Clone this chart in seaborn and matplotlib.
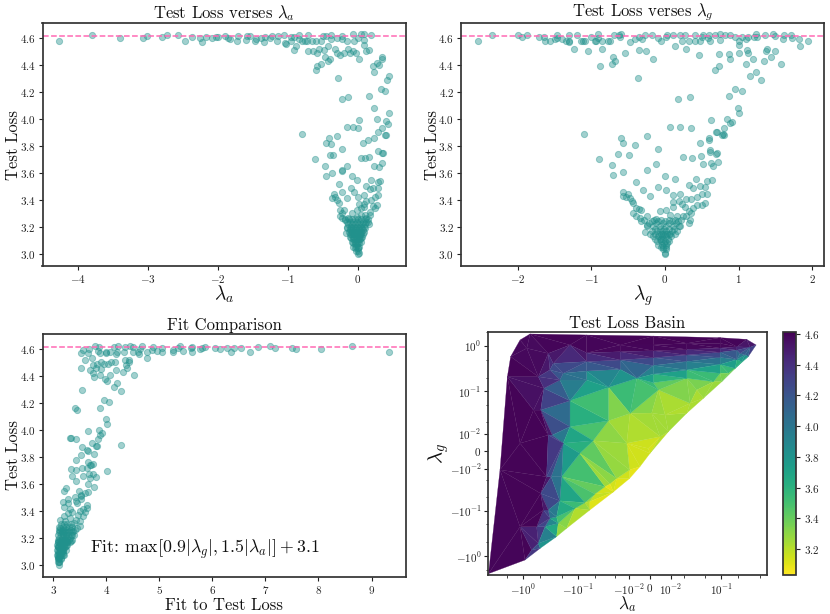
import numpy as np
import matplotlib
matplotlib.use("Agg")
import matplotlib.pyplot as plt
import matplotlib.tri as mtri
from matplotlib.path import Path
import seaborn as sns

# Top left panel: lambda_a against test loss
a_vals = [
    -4.27, -3.79, -3.39, -3.07, -3.01, -2.79, -2.73, -2.56, -2.46, -2.36, -2.25, -2.23, -2.17, -2.08, -2.02, -2.0,
    -1.89, -1.85, -1.82, -1.72, -1.71, -1.60, -1.58, -1.54, -1.47, -1.46, -1.38, -1.34, -1.33, -1.25, -1.23, -1.16,
    -1.14, -1.06, -1.04, -1.02, -0.96, -0.95, -0.91, -0.91, -0.89, -0.84, -0.84, -0.80, -0.76, -0.71, -0.72, -0.66,
    -0.60, -0.52, -0.50, -0.45, -0.42, -0.38, -0.38, -0.30, -0.22, -0.22, -0.15, -0.07, -0.06, 0.0, 0.04, 0.09,
    0.09, 0.09, 0.11, 0.16, 0.19,
    -0.71, -0.64, -0.58, -0.56, -0.49, -0.47, -0.40, -0.43, -0.53, -0.59, -0.60, -0.33, -0.30, -0.25, -0.20, -0.14,
    -0.11, -0.07, -0.03, 0.01,
    0.21, 0.23, 0.27, 0.30, 0.34, 0.35, 0.44, 0.41, 0.33, 0.39, 0.16, -0.29, -0.22, -0.14, 0.23, 0.44,
    0.27, 0.02, 0.40, 0.43, 0.34, 0.28, -0.15, -0.07, 0.0, 0.38, 0.40, -0.80, -0.30, -0.41, 0.23, 0.14,
    0.07, -0.45, -0.38, -0.22, 0.28, 0.34, 0.36, -0.40, -0.35, 0.04, 0.10, 0.16, -0.61, -0.47, -0.22, -0.157,
    0.23, 0.30, 0.35,
    -0.46, -0.37, -0.22, -0.09, -0.02, 0.18, 0.12, 0.29, 0.32, -0.27, -0.105, -0.05, -0.22, 0.17, 0.22, 0.28,
    -0.34, -0.33, -0.37, -0.30, -0.27, -0.16, 0.0, 0.08, 0.29, 0.24, 0.18, 0.12, 0.02, 0.08, 0.09, 0.22,
    0.27, 0.24, -0.25, -0.20, -0.22, -0.09, -0.02, 0.04, 0.17, 0.17, -0.26, -0.23, -0.186, 0.15, 0.16, 0.12,
    -0.14, -0.01, 0.05, 0.10, -0.17,
    -0.16, -0.114, -0.067, -0.02, 0.03, 0.076, 0.114,
    -0.15, -0.105, -0.057, -0.01, 0.04, 0.086,
    -0.133, -0.09, -0.043, 0.005, 0.05, 0.09,
    -0.114, -0.067, -0.03, 0.02, 0.06,
    -0.086, -0.043, -0.005, 0.04,
    -0.067, -0.03, 0.01,
    -0.03, 0.0, -0.005,
    -0.14, -0.09, -0.04, 0.01, 0.06, 0.10,
    -0.12, -0.08, -0.03, 0.02, 0.07,
    -0.10, -0.05, -0.01, 0.03, 0.05,
    -0.07, -0.02, 0.01, 0.03,
    -0.04, -0.01, 0.0, 0.01,
    -0.19, -0.13, -0.08, -0.04, 0.0, 0.05, 0.10, 0.14,
    -0.15, -0.11, -0.07, -0.03, 0.02, 0.06, 0.10,
    -0.12, -0.07, -0.02, 0.03, 0.07,
    -0.10, -0.05, 0.0, 0.04,
    -0.07, -0.03, 0.02,
    -0.04, 0.0,
]
a_loss = [
    4.58, 4.62, 4.60, 4.60, 4.615, 4.61, 4.62, 4.62, 4.58, 4.61, 4.60, 4.57, 4.61, 4.60, 4.605, 4.61,
    4.615, 4.60, 4.595, 4.575, 4.615, 4.585, 4.615, 4.615, 4.58, 4.595, 4.60, 4.57, 4.61, 4.60, 4.615, 4.575,
    4.615, 4.62, 4.565, 4.555, 4.61, 4.575, 4.61, 4.51, 4.54, 4.62, 4.59, 4.575, 4.575, 4.62, 4.58, 4.575,
    4.575, 4.575, 4.615, 4.615, 4.54, 4.59, 4.62, 4.60, 4.615, 4.59, 4.575, 4.63, 4.575, 4.60, 4.625, 4.625,
    4.585, 4.545, 4.50, 4.51, 4.62,
    4.50, 4.50, 4.49, 4.52, 4.51, 4.46, 4.445, 4.43, 4.41, 4.39, 4.365, 4.52, 4.49, 4.47, 4.49, 4.52,
    4.49, 4.50, 4.49, 4.44,
    4.395, 4.35, 4.415, 4.40, 4.445, 4.46, 4.32, 4.285, 4.22, 4.205, 4.17, 4.30, 4.15, 4.16, 4.08, 4.045,
    4.0, 3.995, 3.985, 3.965, 3.935, 3.90, 3.94, 3.94, 3.93, 3.88, 3.88, 3.89, 3.875, 3.86, 3.855, 3.845,
    3.82, 3.82, 3.815, 3.78, 3.765, 3.745, 3.75, 3.735, 3.73, 3.71, 3.71, 3.715, 3.70, 3.65, 3.62, 3.65,
    3.65, 3.645, 3.67,
    3.58, 3.60, 3.617, 3.573, 3.548, 3.548, 3.50, 3.53, 3.54, 3.518, 3.486, 3.46, 3.46, 3.479, 3.486, 3.49,
    3.444, 3.424, 3.412, 3.40, 3.375, 3.412, 3.424, 3.437, 3.437, 3.424, 3.40, 3.39, 3.367, 3.367, 3.35, 3.358,
    3.363, 3.338, 3.326, 3.326, 3.30, 3.30, 3.326, 3.338, 3.313, 3.289, 3.284, 3.264, 3.25, 3.239, 3.22, 3.264,
    3.269, 3.276, 3.289, 3.289, 3.153,
    3.239, 3.239, 3.239, 3.239, 3.239, 3.239, 3.239,
    3.202, 3.202, 3.202, 3.202, 3.202, 3.202,
    3.165, 3.165, 3.165, 3.165, 3.165, 3.165,
    3.128, 3.128, 3.128, 3.128, 3.128,
    3.091, 3.091, 3.091, 3.091,
    3.054, 3.054, 3.054,
    3.022, 3.022, 2.997,
    3.22, 3.22, 3.22, 3.22, 3.22, 3.22,
    3.18, 3.18, 3.18, 3.18, 3.18,
    3.145, 3.145, 3.145, 3.145, 3.145,
    3.11, 3.11, 3.11, 3.11,
    3.07, 3.07, 3.04, 3.01,
    3.26, 3.26, 3.26, 3.26, 3.26, 3.26, 3.26, 3.26,
    3.19, 3.19, 3.19, 3.19, 3.19, 3.19, 3.19,
    3.15, 3.15, 3.15, 3.15, 3.15,
    3.12, 3.12, 3.12, 3.12,
    3.08, 3.08, 3.08,
    3.04, 3.04,
]

# Top right panel: lambda_g against test loss
g_vals = [
    -2.54, -2.35, -1.99, -1.94, -1.88, -1.71, -1.64, -1.63, -1.56, -1.49, -1.46, -1.46, -1.40, -1.35, -1.31, -1.30,
    -1.30, -1.2, -1.14, -1.11, -1.08, -1.0, -0.95, -0.93, -0.905, -0.905, -0.85, -0.78, -0.74, -0.69, -0.62, -0.61,
    -0.6, -0.475, -0.41, -0.35, -0.31, -0.27, -0.18, -0.10, -0.06, 0.01, 0.03, 0.11, 0.20, 0.27, 0.23, 0.33,
    0.41, 0.41, 0.48, 0.51, 0.50, 0.60, 0.58, 0.61, 0.68, 0.75, 0.75, 0.81, 0.88, 0.95, 1.0, 1.04,
    1.10, 1.13, 1.21, 1.24, 1.25, 1.36, 1.47, 1.49, 1.60, 1.61, 1.71, 1.72, 1.82, 1.94, 1.83,
    -1.235, -1.04, -0.85, -0.88, -0.70, -0.68, -0.72, -0.54, -0.35, -0.26, -0.16, -0.37, 0.13, 0.29, 0.46, 0.73,
    0.87, 0.88, 0.68, 0.73, 1.0, 1.01, 1.12, 1.13, 1.2, 1.10, 1.15, 1.235, 1.30, 1.34, 1.37, 1.38,
    1.44, 1.49, 1.575,
    0.95, 1.05, 0.87, 0.18, 0.34, 0.99, 1.0, 0.62, 0.84, 0.91, 0.88, 0.07, 0.21, 0.35, 0.80, 0.71,
    0.80, 0.78, -1.10, -0.60, -0.57, -0.41, -0.25, -0.09, 0.48, 0.60, 0.60, 0.61,
    0.70, 0.79, 0.61, 0.71, 0.70, -0.64, -0.49, -0.89, -0.72, -0.71, -0.575, -0.127, -0.25, 0.25, 0.37, 0.49,
    0.51, 0.63, 0.65, 0.72, 0.0, 0.13, -0.40, 0.42, 0.32, 0.38, 0.475, 0.55, 0.575, 0.64, -0.095, 0.01,
    -0.30, -0.575, -0.50, -0.575, -0.53, -0.475, -0.45, -0.44, -0.2, 0.11, 0.21, 0.50, 0.57, 0.29, 0.35, 0.43,
    0.43, 0.50, 0.54, 0.11, 0.19, 0.23, 0.27, 0.11, 0.375, 0.02, -0.07, -0.40, -0.35, -0.32, -0.43, -0.39,
    -0.34, -0.32, -0.25, -0.12, 0.32, 0.36, 0.29, 0.25, 0.34, 0.32, 0.20, 0.16, 0.07, -0.27, -0.25, -0.18,
    -0.09, 0.0, 0.09, 0.18,
    -0.25, -0.16, -0.07, 0.02, 0.11, 0.19,
    -0.18, -0.11, -0.045, 0.02, 0.09, 0.16,
    -0.16, -0.10, -0.045, 0.014, 0.077,
    -0.11, -0.06, 0.0, 0.06,
    -0.10, -0.045, 0.014,
    -0.03, 0.014, 0.0, -0.005,
    -0.14, -0.07, -0.01, 0.05, 0.12,
    -0.08, -0.02, 0.03, 0.07,
    -0.05, -0.01, 0.03,
    -0.22, -0.12, -0.03, 0.06, 0.15,
    -0.2, -0.13, -0.06, 0.0, 0.06, 0.13,
    -0.14, -0.07, -0.02, 0.04,
    -0.06, -0.02, 0.02,
    -0.28, -0.15, -0.05, 0.05, 0.13, 0.22,
]
g_loss = [
    4.58, 4.62, 4.62, 4.605, 4.62, 4.61, 4.61, 4.58, 4.58, 4.59, 4.62, 4.60, 4.59, 4.575, 4.57, 4.58,
    4.62, 4.62, 4.58, 4.58, 4.58, 4.61, 4.58, 4.58, 4.625, 4.60, 4.575, 4.58, 4.58, 4.62, 4.62, 4.605,
    4.625, 4.57, 4.595, 4.61, 4.595, 4.62, 4.62, 4.60, 4.58, 4.605, 4.62, 4.62, 4.62, 4.62, 4.575, 4.575,
    4.62, 4.575, 4.575, 4.62, 4.61, 4.62, 4.60, 4.575, 4.62, 4.63, 4.585, 4.62, 4.62, 4.61, 4.58, 4.61,
    4.595, 4.61, 4.61, 4.625, 4.61, 4.62, 4.625, 4.615, 4.595, 4.62, 4.62, 4.60, 4.59, 4.58, 4.54,
    4.515, 4.505, 4.52, 4.39, 4.46, 4.425, 4.41, 4.49, 4.51, 4.50, 4.44, 4.30, 4.54, 4.52, 4.47, 4.48,
    4.48, 4.44, 4.365, 4.395, 4.545, 4.49, 4.51, 4.49, 4.445, 4.405, 4.32, 4.35, 4.285, 4.43, 4.50, 4.52,
    4.46, 4.50, 4.41,
    4.22, 4.21, 4.17, 4.15, 4.16, 4.08, 4.045, 3.99, 4.0, 3.98, 3.97, 3.94, 3.94, 3.93, 3.93, 3.90,
    3.88, 3.88, 3.885, 3.855, 3.82, 3.81, 3.875, 3.775, 3.82, 3.855, 3.84, 3.755,
    3.90, 3.885, 3.77, 3.75, 3.74, 3.74, 3.734, 3.704, 3.66, 3.586, 3.608, 3.662, 3.623, 3.717, 3.71, 3.724,
    3.662, 3.672, 3.652, 3.68, 3.578, 3.556, 3.529, 3.556, 3.51, 3.487, 3.504, 3.497, 3.539, 3.549, 3.497, 3.47,
    3.472, 3.457, 3.445, 3.425, 3.418, 3.413, 3.395, 3.38, 3.425, 3.433, 3.447, 3.44, 3.447, 3.403, 3.41, 3.42,
    3.363, 3.361, 3.378, 3.383, 3.388, 3.371, 3.346, 3.346, 3.339, 3.326, 3.314, 3.341, 3.331, 3.326, 3.299, 3.277,
    3.265, 3.247, 3.277, 3.26, 3.314, 3.302, 3.277, 3.282, 3.252, 3.228, 3.203, 3.282, 3.289, 3.161, 3.215, 3.24,
    3.24, 3.24, 3.24, 3.24,
    3.203, 3.203, 3.203, 3.203, 3.203, 3.203,
    3.166, 3.166, 3.166, 3.166, 3.166, 3.166,
    3.129, 3.129, 3.129, 3.129, 3.129,
    3.092, 3.092, 3.092, 3.092,
    3.067, 3.067, 3.067,
    3.035, 3.035, 3.005, 3.0,
    3.185, 3.185, 3.185, 3.185, 3.185,
    3.145, 3.145, 3.145, 3.145,
    3.11, 3.08, 3.08,
    3.225, 3.225, 3.225, 3.225, 3.225,
    3.15, 3.15, 3.15, 3.15, 3.15, 3.15,
    3.11, 3.11, 3.11, 3.11,
    3.05, 3.05, 3.05,
    3.25, 3.25, 3.25, 3.25, 3.25, 3.25,
]

# Bottom left panel: fit value against test loss
fit_vals = [
    9.33, 8.63, 8.05, 7.58, 7.5, 7.19, 7.09, 6.86, 6.71, 6.55, 6.40, 6.36, 6.27, 6.14, 6.05, 5.87,
    5.77, 5.81, 5.62, 5.59, 5.62, 5.45, 5.39, 5.35, 5.26, 5.25, 5.06, 5.06, 4.95, 4.89, 4.86, 4.76,
    4.76, 4.67, 4.64, 4.60, 4.62, 4.51, 4.51, 4.45, 4.35, 4.33, 4.23, 4.21, 4.14, 4.19, 4.07, 3.99,
    4.0, 3.88, 3.85, 3.79, 3.86, 3.74, 3.66, 3.68, 3.57, 3.53, 3.60, 3.52,
    3.75, 3.82, 3.91, 3.96, 4.04, 4.10, 4.16, 4.18, 4.35, 4.43, 4.38, 4.32, 4.40, 4.52, 4.43, 3.69,
    3.75, 3.77, 3.81, 3.88, 3.91, 3.97, 4.01, 4.08, 4.21, 4.14, 4.27, 3.54,
    3.96, 4.05, 3.89, 3.41, 3.45, 4.0, 4.01, 3.66, 3.86, 3.92, 3.89, 3.31, 3.33, 3.43, 3.84, 3.74,
    3.80, 3.83, 4.28, 3.55, 3.64, 3.66, 3.53, 3.77, 3.44, 3.65, 3.69, 3.75, 3.72, 3.33, 3.44, 3.55,
    3.64, 4.01, 3.35, 3.57, 3.68, 3.75, 3.69, 3.81, 3.44, 3.65, 3.77, 3.24, 3.21, 3.48, 3.66, 3.60,
    3.52, 3.53, 3.28, 3.41, 3.19, 3.28, 3.44, 3.53, 3.45, 3.20, 3.31, 3.63, 3.64, 3.57, 3.50, 3.60,
    3.28, 3.36, 3.47, 3.57, 3.20, 3.13, 3.22, 3.31, 3.43, 3.50, 3.39, 3.13, 3.50, 3.45,
    3.11, 3.19, 3.25, 3.33, 3.41,
    3.10, 3.18, 3.25, 3.33, 3.39,
    3.09, 3.16, 3.23, 3.30, 3.36,
    3.08, 3.145, 3.21, 3.27,
    3.08, 3.14, 3.19, 3.24,
    3.08, 3.125, 3.19,
    3.09, 3.145, 3.11,
    3.12, 3.17, 3.22, 3.28, 3.35,
    3.10, 3.15, 3.20, 3.26,
    3.09, 3.13, 3.18,
    3.10, 3.12, 3.11,
    3.12, 3.18, 3.24, 3.30, 3.36,
    3.12, 3.17, 3.22, 3.27, 3.32,
    3.10, 3.13, 3.18, 3.22, 3.26, 3.31,
    3.09, 3.12, 3.16, 3.20, 3.23,
    3.09, 3.12, 3.15, 3.18,
    3.09, 3.12, 3.15,
    3.10, 3.12,
    3.14, 3.20, 3.26, 3.33,
    3.13, 3.17, 3.21, 3.29, 3.37,
    3.14, 3.20, 3.28, 3.36,
    3.12, 3.19, 3.25, 3.33,
    3.10, 3.15, 3.19, 3.25,
    3.10, 3.14, 3.17,
    3.10, 3.14, 3.20,
]
fit_loss = [
    4.58, 4.62, 4.60, 4.60, 4.61, 4.61, 4.62, 4.615, 4.58, 4.61, 4.605, 4.575, 4.61, 4.60, 4.61, 4.615,
    4.60, 4.61, 4.615, 4.61, 4.575, 4.585, 4.62, 4.61, 4.58, 4.595, 4.61, 4.575, 4.585, 4.615, 4.595, 4.53,
    4.58, 4.62, 4.60, 4.58, 4.56, 4.615, 4.58, 4.62, 4.615, 4.575, 4.62, 4.58, 4.615, 4.56, 4.58, 4.57,
    4.575, 4.57, 4.585, 4.62, 4.615, 4.535, 4.57, 4.60, 4.59, 4.57, 4.515, 4.46,
    4.48, 4.49, 4.505, 4.485, 4.485, 4.50, 4.505, 4.44, 4.515, 4.505, 4.48, 4.425, 4.46, 4.405, 4.515, 4.44,
    4.42, 4.39, 4.455, 4.41, 4.45, 4.38, 4.365, 4.405, 4.35, 4.32, 4.285, 4.295,
    4.22, 4.205, 4.165, 4.16, 4.145, 4.08, 4.045, 3.99, 4.0, 3.98, 3.965, 3.94, 3.94, 3.93, 3.935, 3.90,
    3.88, 3.88, 3.89, 3.875, 3.85, 3.84, 3.815, 3.82, 3.78, 3.765, 3.74, 3.745, 3.74, 3.71, 3.705, 3.715,
    3.72, 3.695, 3.655, 3.655, 3.67, 3.67, 3.64, 3.65, 3.62, 3.60, 3.58, 3.57, 3.545, 3.55, 3.54, 3.53,
    3.52, 3.51, 3.49, 3.505, 3.465, 3.46, 3.475, 3.49, 3.46, 3.425, 3.415, 3.445, 3.42, 3.415, 3.40, 3.395,
    3.385, 3.395, 3.37, 3.36, 3.365, 3.33, 3.325, 3.35, 3.33, 3.325, 3.31, 3.27, 3.29, 3.27,
    3.26, 3.26, 3.26, 3.26, 3.26,
    3.224, 3.224, 3.224, 3.224, 3.224,
    3.187, 3.187, 3.187, 3.187, 3.187,
    3.15, 3.15, 3.15, 3.15,
    3.113, 3.113, 3.113, 3.113,
    3.076, 3.076, 3.076,
    3.04, 3.04, 3.0,
    3.24, 3.24, 3.24, 3.24, 3.24,
    3.17, 3.17, 3.17, 3.17,
    3.13, 3.10, 3.10,
    3.06, 3.02, 3.05,
    3.28, 3.28, 3.28, 3.28, 3.28,
    3.20, 3.20, 3.20, 3.20, 3.20,
    3.17, 3.17, 3.17, 3.17, 3.17, 3.17,
    3.13, 3.13, 3.13, 3.13, 3.13,
    3.09, 3.09, 3.09, 3.09,
    3.05, 3.05, 3.05,
    3.02, 3.02,
    3.30, 3.30, 3.30, 3.30,
    3.25, 3.25, 3.25, 3.25, 3.25,
    3.22, 3.22, 3.22, 3.22,
    3.18, 3.18, 3.18, 3.18,
    3.14, 3.14, 3.14, 3.14,
    3.10, 3.10, 3.10,
    3.07, 3.07, 3.07,
]

# Bottom right panel: basin vertices, the outline comes first and in order
outline_count = 26
basin_a = [
    -4.27, -2.64, -1.94, -1.69, -1.14, -0.75, -0.07, 0.0015, 0.095, 0.29, 0.43, 0.31, 0.179, 0.102, 0.047, 0.0226,
    0.0086, 0.0001, -0.0042, -0.0095, -0.0218, -0.061, -0.162, -0.247, -0.49, -0.93,
    -1.14, -1.14, -0.65, -0.86, -0.53, -0.48, -0.48, -0.57, -0.70, -0.35, -0.376, -0.43,
    -0.141, -0.0158, 0.0015, 0.0226, 0.095,
    -0.35, -0.07, -0.0158, 0.0015, 0.0226, 0.095, 0.192,
    -0.284, -0.07, -0.0158, 0.0015, 0.0226, 0.095, 0.192,
    -0.187, -0.07, -0.0158, 0.0015, 0.0226, 0.095, 0.219,
    -0.07, -0.0057, 0.0015, 0.0226, 0.095, 0.192,
    -0.0273, 0.0015, 0.0226, 0.095, 0.235,
    0.0037, 0.0352, 0.072, 0.135, 0.333, 0.27,
    -0.327, -0.42, -0.215, -0.141, -0.296, -0.31, -0.35, -0.187, -0.2, -0.215, -0.093, -0.053, -0.141,
    -0.0273, -0.0092, 0.0008, 0.0069, 0.0262, 0.0045, -0.0006, -0.0112, -0.0095, -0.0187, -0.0317, -0.0253,
    -0.061, -0.049, -0.075, -0.114, -0.23, -0.247, -0.327, -0.40, -0.53,
]
basin_g = [
    -2.4, -0.011, 0.21, 0.58, 1.34, 1.81, 1.72, 1.63, 1.50, 1.38, 1.04, 0.58, 0.32, 0.164, 0.071, 0.033,
    0.0113, -0.0012, -0.0087, -0.0187, -0.0385, -0.0973, -0.245, -0.372, -0.67, -1.21,
    0.004, -0.226, 0.0386, 0.88, 0.21, 0.0386, -0.0417, -0.226, -0.73, 0.0089, -0.0169, -0.0973,
    1.04, 1.04, 1.04, 1.13, 1.13,
    0.68, 0.70, 0.74, 0.78, 0.83, 0.89, 0.95,
    0.41, 0.45, 0.488, 0.55, 0.63, 0.72, 0.80,
    0.25, 0.28, 0.305, 0.37, 0.45, 0.555, 0.68,
    0.178, 0.194, 0.24, 0.296, 0.39, 0.50,
    0.123, 0.156, 0.194, 0.25, 0.45,
    0.108, 0.108, 0.164, 0.25, 0.93, 0.63,
    0.296, 0.117, 0.178, 0.0625, 0.0089, -0.0169, -0.0973, 0.004, -0.0169, -0.061, -0.0012, 0.0054, 0.0155,
    0.0218, 0.0325, 0.033, 0.030, 0.0547, 0.0079, 0.0013, 0.004, -0.011, -0.0187, -0.0293, -0.0255,
    -0.0636, -0.043, -0.067, -0.0897, -0.19, -0.137, -0.148, -0.226, -0.523,
]
basin_loss = [
    4.58, 4.6, 4.6, 4.6, 4.6, 4.6, 4.6, 4.6, 4.6, 4.6, 4.55, 4.0, 3.5, 3.3, 3.2, 3.3,
    3.3, 3.15, 3.08, 3.03, 3.05, 3.08, 3.15, 3.3, 3.9, 4.6,
    4.6, 4.6, 4.6, 4.55, 4.6, 4.6, 4.6, 4.6, 4.6, 4.6, 4.6, 4.6,
    4.6, 4.6, 4.6, 4.6, 4.6,
    4.58, 4.58, 4.58, 4.58, 4.58, 4.58, 4.58,
    4.35, 4.35, 4.35, 4.35, 4.35, 4.35, 4.35,
    4.1, 4.1, 4.1, 4.1, 4.1, 4.1, 4.1,
    3.85, 3.85, 3.85, 3.85, 3.85, 3.85,
    3.45, 3.45, 3.45, 3.45, 3.45,
    3.35, 3.3, 3.3, 3.3, 4.4, 4.0,
    4.35, 4.45, 4.15, 3.85, 4.35, 4.35, 4.35, 3.85, 3.85, 3.85, 3.55, 3.45, 3.75,
    3.25, 3.3, 3.3, 3.15, 3.2, 3.15, 3.1, 3.2, 3.15, 3.25, 3.12, 3.12,
    3.2, 3.25, 3.35, 3.4, 3.4, 3.7, 3.95, 4.3, 4.2,
]

basin_x_ticks = [-1, -0.1, -0.01, 0, 0.01, 0.1]
basin_x_labels = [r"$-10^{0}$", r"$-10^{-1}$", r"$-10^{-2}$", r"$0$", r"$10^{-2}$", r"$10^{-1}$"]
basin_y_ticks = [-1, -0.1, -0.01, 0, 0.01, 0.1, 1]
basin_y_labels = [r"$-10^{0}$", r"$-10^{-1}$", r"$-10^{-2}$", r"$0$", r"$10^{-2}$", r"$10^{-1}$", r"$10^{0}$"]
basin_x_minor = [-2, -0.5, -0.2, -0.05, -0.02, 0.02, 0.05, 0.2, 0.5]
basin_y_minor = [-2, -0.5, -0.2, -0.05, -0.02, 0.02, 0.05, 0.2, 0.5, 2]
loss_ticks = [3.0, 3.2, 3.4, 3.6, 3.8, 4.0, 4.2, 4.4, 4.6]
cbar_ticks = [3.2, 3.4, 3.6, 3.8, 4.0, 4.2, 4.4, 4.6]

ceiling = 4.615
teal = "#21918c"

sns.set_theme(style="ticks")
plt.rcParams["font.family"] = ["cmr10", "DejaVu Sans"]
plt.rcParams["mathtext.fontset"] = "cm"
plt.rcParams["axes.formatter.use_mathtext"] = True
plt.rcParams["axes.unicode_minus"] = False
plt.rcParams["axes.edgecolor"] = "#333333"
plt.rcParams["xtick.color"] = "#222222"
plt.rcParams["ytick.color"] = "#222222"
plt.rcParams["text.color"] = "#111111"
plt.rcParams["axes.labelcolor"] = "#111111"

W, H = 830, 614
fig = plt.figure(figsize=(W / 100, H / 100), dpi=100)


def place(x0, y0, x1, y1):
    return fig.add_axes([x0 / W, 1 - y1 / H, (x1 - x0) / W, (y1 - y0) / H])


def scatter_panel(ax, x, y, xlim, xticks, title, xlabel, xlabel_size=14, xlabel_pad=-1):
    sns.scatterplot(x=x, y=y, ax=ax, color=teal, alpha=0.42, s=20, edgecolor=teal, linewidth=0.7)
    ax.axhline(ceiling, color="hotpink", ls="--", lw=1.1)
    ax.set_xlim(*xlim)
    ax.set_ylim(2.91, 4.71)
    ax.set_xticks(xticks)
    ax.set_yticks(loss_ticks)
    ax.tick_params(labelsize=8, length=3, width=0.8, pad=2)
    ax.set_title(title, fontsize=12, pad=3)
    ax.set_xlabel(xlabel, fontsize=xlabel_size, labelpad=xlabel_pad)
    ax.set_ylabel("Test Loss", fontsize=12, labelpad=-1)


ax1 = place(42.5, 23, 406, 266)
scatter_panel(ax1, a_vals, a_loss, (-4.5, 0.686), [-4, -3, -2, -1, 0], r"Test Loss verses $\lambda_a$", r"$\lambda_a$")

ax2 = place(461, 23, 824, 266)
scatter_panel(ax2, g_vals, g_loss, (-2.77, 2.16), [-2, -1, 0, 1, 2], r"Test Loss verses $\lambda_g$", r"$\lambda_g$")

ax3 = place(42.5, 334, 406, 577)
scatter_panel(ax3, fit_vals, fit_loss, (2.80, 9.65), [3, 4, 5, 6, 7, 8, 9], "Fit Comparison", "Fit to Test Loss", 12, 1)
ax3.text(3.7, 3.09, r"Fit: $\max\left[0.9|\lambda_g|, 1.5|\lambda_a|\right] + 3.1$", fontsize=12.8)

# Triangles are built in the scaled space so they look the same as on the axes
ax4 = place(488.3, 331.7, 766.7, 575)
width = 0.01
scaled_a = np.arcsinh(np.array(basin_a) / width)
scaled_g = np.arcsinh(np.array(basin_g) / width)
tris = mtri.Triangulation(scaled_a, scaled_g).triangles
outline = Path(np.column_stack([scaled_a[:outline_count], scaled_g[:outline_count]]))
centres = np.column_stack([scaled_a[tris].mean(axis=1), scaled_g[tris].mean(axis=1)])
tris = tris[outline.contains_points(centres)]

basin = ax4.tripcolor(
    mtri.Triangulation(basin_a, basin_g, tris),
    np.array(basin_loss),
    cmap="viridis_r",
    vmin=3.03,
    vmax=4.615,
    shading="flat",
    edgecolors="face",
    linewidth=0.2,
)
ax4.set_xscale("asinh", linear_width=width)
ax4.set_yscale("asinh", linear_width=width)
ax4.set_xticks(basin_x_ticks, basin_x_labels)
ax4.set_yticks(basin_y_ticks, basin_y_labels)
ax4.set_xticks(basin_x_minor, minor=True)
ax4.set_yticks(basin_y_minor, minor=True)
ax4.set_xlim(-4.31, 0.67)
ax4.set_ylim(-2.57, 2.03)
ax4.tick_params(labelsize=8, length=3, width=0.8, pad=2)
ax4.tick_params(which="minor", length=1.8, width=0.6)
ax4.set_title("Test Loss Basin", fontsize=12, pad=3)
ax4.set_xlabel(r"$\lambda_a$", fontsize=12.5, labelpad=-2)
ax4.set_ylabel(r"$\lambda_g$", fontsize=15, labelpad=-1)

cax = place(783.3, 331.7, 796, 575)
cbar = fig.colorbar(basin, cax=cax)
cbar.set_ticks(cbar_ticks)
cbar.ax.tick_params(labelsize=8, length=3, width=0.8, pad=3)
cbar.ax.set_yticklabels([f"${t:.1f}$" for t in cbar_ticks])

fig.savefig("out.png", dpi=100)
